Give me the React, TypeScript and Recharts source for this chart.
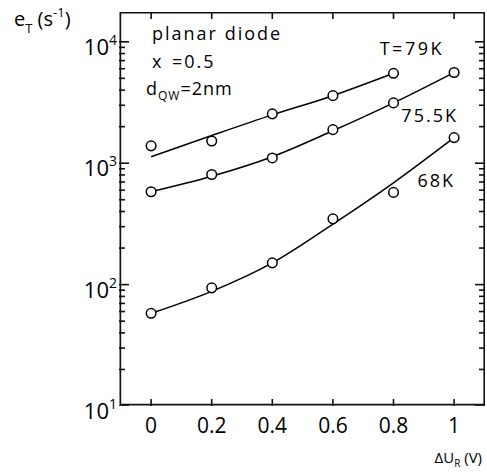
import React from "react"
import { ComposedChart, Line, Scatter, XAxis, YAxis } from "recharts"

// measured emission rates (s^-1) vs reverse bias step (V)
const biasX = [0, 0.2, 0.4, 0.6, 0.8, 1.0]
const meas79 = [1390, 1525, 2550, 3600, 5500]
const meas755 = [582, 807, 1105, 1890, 3140, 5590]
const meas68 = [58, 94, 151, 348, 575, 1625]

// fitted curves
const fit79 = [1130, 1690, 2500, 3600, 5500]
const fit755 = [582, 780, 1130, 1850, 3140, 5590]
const fit68 = [58, 88, 151, 315, 690, 1625]

const xTicks = [0, 0.2, 0.4, 0.6, 0.8, 1]
const xTickLabels = ["0", "0.2", "0.4", "0.6", "0.8", "1"]
const yMajor = [10, 100, 1000, 10000]
const yMinor = [20, 30, 40, 50, 60, 70, 80, 90, 200, 300, 400, 500, 600, 700, 800, 900, 2000, 3000, 4000, 5000, 6000, 7000, 8000, 9000]

const X_MIN = -0.106
const X_MAX = 1.102
const Y_MIN = 10
const Y_MAX = 17600

const toPoints = (vals: number[]) => vals.map((v, i) => ({ x: biasX[i], y: v }))

const FONT = "'Open Sans', 'Liberation Sans', sans-serif"

const Circle = (props: any) => (
  <circle cx={props.cx} cy={props.cy} r={4.8} fill="#fff" stroke="#000" strokeWidth={1.5} />
)

// short tick mark drawn from the point inward
const tickShape = (dx: number, dy: number) => (props: any) =>
  <path d={`M${props.cx},${props.cy}l${dx},${dy}`} stroke="#111" strokeWidth={1.6} fill="none" />

// default tickSize 6 + tickMargin 2 => label anchor sits 8px outside the axis
const LeftLabel = (props: any) => {
  const { x, y, payload } = props
  const exp = Math.round(Math.log10(payload.value))
  return (
    <text x={x + 6} y={y + 13} textAnchor="end" fontSize={22} fontFamily={FONT} fill="#000">
      10<tspan dy={-10} fontSize={14}>{exp}</tspan>
    </text>
  )
}

const BottomLabel = (props: any) => {
  const { x, y, index } = props
  return (
    <text x={x} y={y + 19} textAnchor="middle" fontSize={21} fontFamily={FONT} fill="#000">
      {xTickLabels[index]}
    </text>
  )
}

export default function App() {
  const leftMajor = yMajor.map((v) => ({ x: X_MIN, y: v }))
  const leftMinor = yMinor.map((v) => ({ x: X_MIN, y: v }))
  const rightMajor = yMajor.map((v) => ({ x: X_MAX, y: v }))
  const rightMinor = yMinor.map((v) => ({ x: X_MAX, y: v }))
  const bottomTicks = xTicks.map((v) => ({ x: v, y: Y_MIN }))
  const topTicks = xTicks.map((v) => ({ x: v, y: Y_MAX }))
  const topEdge = [{ x: X_MIN, y: Y_MAX }, { x: X_MAX, y: Y_MAX }]
  const rightEdge = [{ x: X_MAX, y: Y_MIN }, { x: X_MAX, y: Y_MAX }]
  const leftEdge = [{ x: X_MIN, y: Y_MIN }, { x: X_MIN, y: Y_MAX }]
  const bottomEdge = [{ x: X_MIN, y: Y_MIN }, { x: X_MAX, y: Y_MIN }]

  return (
    <div style={{ position: "absolute", left: 0, top: 0, width: 487, height: 472, background: "#fff" }}>
      <ComposedChart width={487} height={472} margin={{ top: 12, right: 2, left: 0, bottom: 0 }}>
        <XAxis
          type="number"
          dataKey="x"
          domain={[X_MIN, X_MAX]}
          ticks={xTicks}
          height={66}
          tick={<BottomLabel />}
          stroke="#fff"
          allowDataOverflow
        />
        <YAxis
          type="number"
          scale="log"
          domain={[Y_MIN, Y_MAX]}
          ticks={yMajor}
          width={119}
          tick={<LeftLabel />}
          stroke="#fff"
          allowDataOverflow
        />

        {/* frame (half of each stroke is clipped at the plot edge) */}
        <Line data={topEdge} dataKey="y" type="linear" stroke="#111" strokeWidth={3.2} dot={false} isAnimationActive={false} />
        <Line data={rightEdge} dataKey="y" type="linear" stroke="#111" strokeWidth={3.2} dot={false} isAnimationActive={false} />
        <Line data={leftEdge} dataKey="y" type="linear" stroke="#111" strokeWidth={4.4} dot={false} isAnimationActive={false} />
        <Line data={bottomEdge} dataKey="y" type="linear" stroke="#111" strokeWidth={4.4} dot={false} isAnimationActive={false} />

        {/* inward ticks */}
        <Scatter data={leftMajor} dataKey="y" shape={tickShape(10, 0)} isAnimationActive={false} />
        <Scatter data={leftMinor} dataKey="y" shape={tickShape(6, 0)} isAnimationActive={false} />
        <Scatter data={rightMajor} dataKey="y" shape={tickShape(-10, 0)} isAnimationActive={false} />
        <Scatter data={rightMinor} dataKey="y" shape={tickShape(-6, 0)} isAnimationActive={false} />
        <Scatter data={bottomTicks} dataKey="y" shape={tickShape(0, -7)} isAnimationActive={false} />
        <Scatter data={topTicks} dataKey="y" shape={tickShape(0, 7)} isAnimationActive={false} />

        <Line data={toPoints(fit79)} dataKey="y" type="monotone" stroke="#000" strokeWidth={1.5} dot={false} isAnimationActive={false} />
        <Line data={toPoints(fit755)} dataKey="y" type="monotone" stroke="#000" strokeWidth={1.5} dot={false} isAnimationActive={false} />
        <Line data={toPoints(fit68)} dataKey="y" type="monotone" stroke="#000" strokeWidth={1.5} dot={false} isAnimationActive={false} />
        <Scatter data={toPoints(meas79)} dataKey="y" shape={Circle} isAnimationActive={false} />
        <Scatter data={toPoints(meas755)} dataKey="y" shape={Circle} isAnimationActive={false} />
        <Scatter data={toPoints(meas68)} dataKey="y" shape={Circle} isAnimationActive={false} />

        <g fontFamily={FONT} fill="#000">
          <text x={14} y={26} fontSize={20}>
            e<tspan dy={7} fontSize={13}>T</tspan>
            <tspan dy={-7}> (s</tspan>
            <tspan dy={-9} fontSize={13}>-1</tspan>
            <tspan dy={9}>)</tspan>
          </text>
          <text x={152} y={40} fontSize={18} letterSpacing={2}>planar diode</text>
          <text x={152} y={68} fontSize={18}>x</text>
          <text x={172} y={68} fontSize={18} letterSpacing={2}>=0.5</text>
          <text x={146} y={95} fontSize={18} letterSpacing={1}>
            d<tspan dy={5} fontSize={12}>QW</tspan>
            <tspan dy={-5}>=2nm</tspan>
          </text>
          <text x={444} y={55} fontSize={18} letterSpacing={2.5} textAnchor="end">T=79K</text>
          <text x={458} y={122} fontSize={18} letterSpacing={2} textAnchor="end">75.5K</text>
          <text x={455} y={187} fontSize={18} letterSpacing={2} textAnchor="end">68K</text>
          <text x={482} y={463} fontSize={15} textAnchor="end">
            ΔU<tspan dy={4} fontSize={10}>R</tspan>
            <tspan dy={-4}> (V)</tspan>
          </text>
        </g>
      </ComposedChart>
    </div>
  )
}
